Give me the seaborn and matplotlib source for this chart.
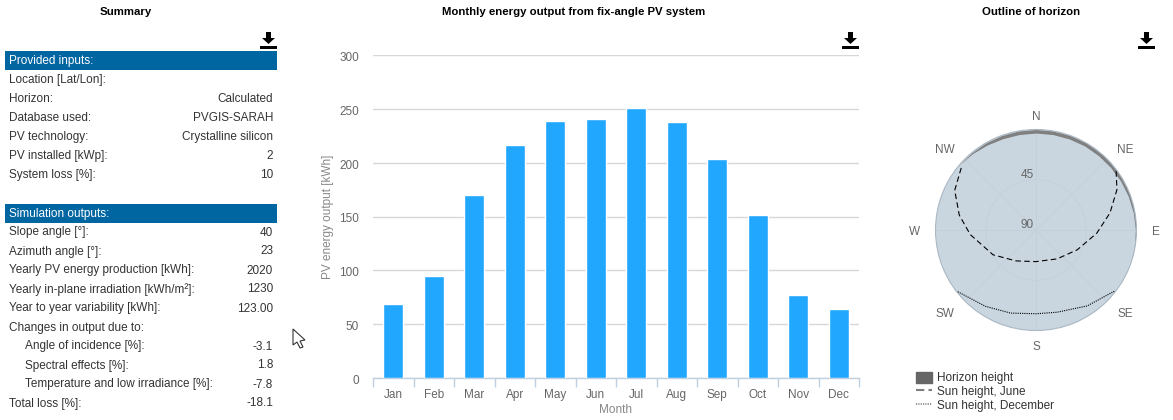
import numpy as np
import seaborn as sns
import matplotlib.pyplot as plt
from matplotlib.lines import Line2D
from matplotlib.patches import Patch, Polygon, Rectangle
from matplotlib.transforms import ScaledTranslation

W, H = 1173, 420
FS = 8.5  # about 12px
TITLE_FS = 8.2

months = ['Jan', 'Feb', 'Mar', 'Apr', 'May', 'Jun', 'Jul', 'Aug', 'Sep', 'Oct', 'Nov', 'Dec']
energy = [69, 95, 170, 216, 239, 241, 251, 238, 203, 151, 77, 64]

input_labels = ['Location [Lat/Lon]:', 'Horizon:', 'Database used:', 'PV technology:',
                'PV installed [kWp]:', 'System loss [%]:']
input_values = ['', 'Calculated', 'PVGIS-SARAH', 'Crystalline silicon', '2', '10']
output_labels = ['Slope angle [°]:', 'Azimuth angle [°]:', 'Yearly PV energy production [kWh]:',
                 'Yearly in-plane irradiation [kWh/m²]:', 'Year to year variability [kWh]:',
                 'Changes in output due to:', 'Angle of incidence [%]:', 'Spectral effects [%]:',
                 'Temperature and low irradiance [%]:', 'Total loss [%]:']
output_values = ['40', '23', '2020', '1230', '123.00', '', '-3.1', '1.8', '-7.8', '-18.1']
indented = ['Angle of incidence [%]:', 'Spectral effects [%]:', 'Temperature and low irradiance [%]:']

# horizon, degrees
horizon_az = [-50, -40, -30, -20, -10, 0, 10, 20, 30, 40, 50, 60, 70, 80, 90, 100, 110, 120]
horizon_el = [0, 1.0, 2.2, 3.0, 3.2, 3.2, 3.2, 3.2, 3.0, 3.0, 2.8, 2.4, 2.0, 1.5, 1.0, 0.6, 0.3, 0]
june_az = [53.7, 63.5, 77, 93, 115.6, 144, 180, 213, 240, 266, 281, 296, 311.4]
june_el = [1, 9, 22, 35.5, 49, 58, 61.7, 57, 45.6, 31, 20, 9, 1.8]
dec_az = [128, 146, 165.7, 180, 197, 213.6, 232]
dec_el = [1, 8, 14, 15, 12.2, 8, 0.6]
compass_names = ['N', 'NE', 'E', 'SE', 'S', 'SW', 'W', 'NW']
compass_az = [0, 45, 90, 135, 180, 225, 270, 315]
# label offset from the rim, pixels
compass_dx = [0, 18, 19, 18, 0, -20, -21, -20]
compass_dy = [13, 9, -2, -13, -17, -13, -2, 9]


def fx(x):
    return x / W


def fy(y):
    return 1 - y / H


def ax_rect(left, top, right, bottom):
    return [fx(left), fy(bottom), (right - left) / W, (bottom - top) / H]


def download_icon(fig, left, top):
    # small download glyph above each panel
    arrow = [(left + 6, top), (left + 11, top), (left + 11, top + 6), (left + 15, top + 6),
             (left + 8.5, top + 12), (left + 2, top + 6), (left + 6, top + 6)]
    fig.add_artist(Polygon([(fx(x), fy(y)) for x, y in arrow], closed=True, color='black',
                           lw=0, transform=fig.transFigure))
    fig.add_artist(Rectangle((fx(left), fy(top + 17)), 17 / W, 3 / H, color='black', lw=0,
                             transform=fig.transFigure))


sns.set_theme(style='white')
plt.rcParams['font.family'] = ['Liberation Sans', 'DejaVu Sans']

fig = plt.figure(figsize=(W / 100, H / 100), dpi=100)

for title, x in [('Summary', 126), ('Monthly energy output from fix-angle PV system', 574),
                 ('Outline of horizon', 1031)]:
    fig.text(fx(x), fy(12), title, ha='center', va='center', fontsize=TITLE_FS, fontweight='bold', color='black')
for x in [260, 842, 1138]:
    download_icon(fig, x, 32)

# summary table
text_col = '#333333'
for top, head in [(51, 'Provided inputs:'), (204, 'Simulation outputs:')]:
    fig.add_artist(Rectangle((fx(5), fy(top + 19)), 272 / W, 19 / H, color='#0066A2', lw=0,
                             transform=fig.transFigure))
    fig.text(fx(9), fy(top + 10), head, ha='left', va='center', fontsize=FS, color='white')

for i, (lab, val) in enumerate(zip(input_labels, input_values)):
    y = 80 + i * 19
    fig.text(fx(9), fy(y), lab, ha='left', va='center', fontsize=FS, color=text_col)
    fig.text(fx(273), fy(y), val, ha='right', va='center', fontsize=FS, color=text_col)
for i, (lab, val) in enumerate(zip(output_labels, output_values)):
    y = 232.5 + i * 19
    fig.text(fx(25 if lab in indented else 9), fy(y), lab, ha='left', va='center', fontsize=FS, color=text_col)
    fig.text(fx(273), fy(y), val, ha='right', va='center', fontsize=FS, color=text_col)

# mouse pointer left in the screenshot
pointer = [(293, 329), (293, 345), (297, 342), (300, 348), (303, 347), (300, 341), (305, 340)]
fig.add_artist(Polygon([(fx(x), fy(y)) for x, y in pointer], closed=True, facecolor='white',
                       edgecolor='#333333', lw=0.8, transform=fig.transFigure))

# bar chart
ax = fig.add_axes(ax_rect(373, 55, 859, 378))
sns.barplot(x=months, y=energy, ax=ax, color='#22A7FF', saturation=1, width=0.5, zorder=3)
ax.set_xlim(-0.5, 11.5)
ax.set_ylim(0, 300)
ax.set_yticks(range(0, 301, 50))
ax.grid(axis='y', color='#D8D8D8', lw=1)
ax.set_axisbelow(True)
for name in ['left', 'right', 'top']:
    ax.spines[name].set_visible(False)
ax.spines['bottom'].set_color('#C0D0E0')
ax.spines['bottom'].set_linewidth(1)
ax.tick_params(axis='y', length=0, pad=10, labelsize=FS, labelcolor='#666666')
ax.tick_params(axis='x', which='major', length=0, pad=8, labelsize=FS, labelcolor='#666666')
ax.set_xticks(np.arange(-0.5, 12), minor=True)
ax.tick_params(axis='x', which='minor', length=6.5, width=1, color='#C0D0E0', bottom=True)
ax.set_xlabel('Month', fontsize=FS, color='#888888', labelpad=2)
ax.set_ylabel('PV energy output [kWh]', fontsize=FS, color='#888888', labelpad=3.5)
for t in ax.get_yticklabels():
    t.set_transform(t.get_transform() + ScaledTranslation(0, -1.5 / 100, fig.dpi_scale_trans))

# horizon chart
sky = '#C9D6E0'
pax = fig.add_axes(ax_rect(935.5, 129.5, 1136.5, 330.5), projection='polar')
pax.set_theta_zero_location('N')
pax.set_theta_direction(-1)
pax.set_facecolor(sky)
pax.fill_between(np.radians(horizon_az), 0, horizon_el, color='#808080', lw=0, zorder=2)
sns.lineplot(x=np.radians(june_az), y=june_el, ax=pax, sort=False, estimator=None, color='black',
             lw=0.8, linestyle=(0, (5, 3)), zorder=3)
sns.lineplot(x=np.radians(dec_az), y=dec_el, ax=pax, sort=False, estimator=None, color='black',
             lw=0.8, linestyle=(0, (1, 1)), zorder=3)
pax.set_rlim(90, 0)
pax.set_xlabel('')
pax.set_ylabel('')
pax.set_xticks(np.radians(compass_az))
pax.set_xticklabels([])
pax.set_yticks([45, 90])
pax.set_yticklabels([])
pax.grid(True, color='#C3D0DB', lw=0.6)
pax.set_axisbelow(True)
pax.spines['polar'].set_color('#AAB8C4')
pax.spines['polar'].set_linewidth(0.8)

for name, az, dx, dy in zip(compass_names, compass_az, compass_dx, compass_dy):
    pax.annotate(name, xy=(np.radians(az), 0), xytext=(dx, dy), textcoords='offset pixels', ha='center',
                 va='center', fontsize=FS, color='#666666', annotation_clip=False)
for val in [45, 90]:
    pax.annotate(str(val), xy=(0, val), xytext=(-9, 5), textcoords='offset pixels', ha='center',
                 va='center', fontsize=FS, color='#666666')

handles = [Patch(color='#666666', label='Horizon height'),
           Line2D([], [], color='#808080', lw=1.5, linestyle=(0, (4, 2)), label='Sun height, June'),
           Line2D([], [], color='#808080', lw=1.2, linestyle=(0, (0.7, 0.7)), label='Sun height, December')]
leg = fig.legend(handles=handles, loc='upper left', bbox_to_anchor=(fx(916), fy(372)), frameon=False,
                 fontsize=FS, handlelength=1.35, handleheight=1.0, handletextpad=0.42, labelspacing=0.12,
                 borderpad=0, borderaxespad=0)
for t in leg.get_texts():
    t.set_color(text_col)

fig.savefig('out.png', dpi=100)
